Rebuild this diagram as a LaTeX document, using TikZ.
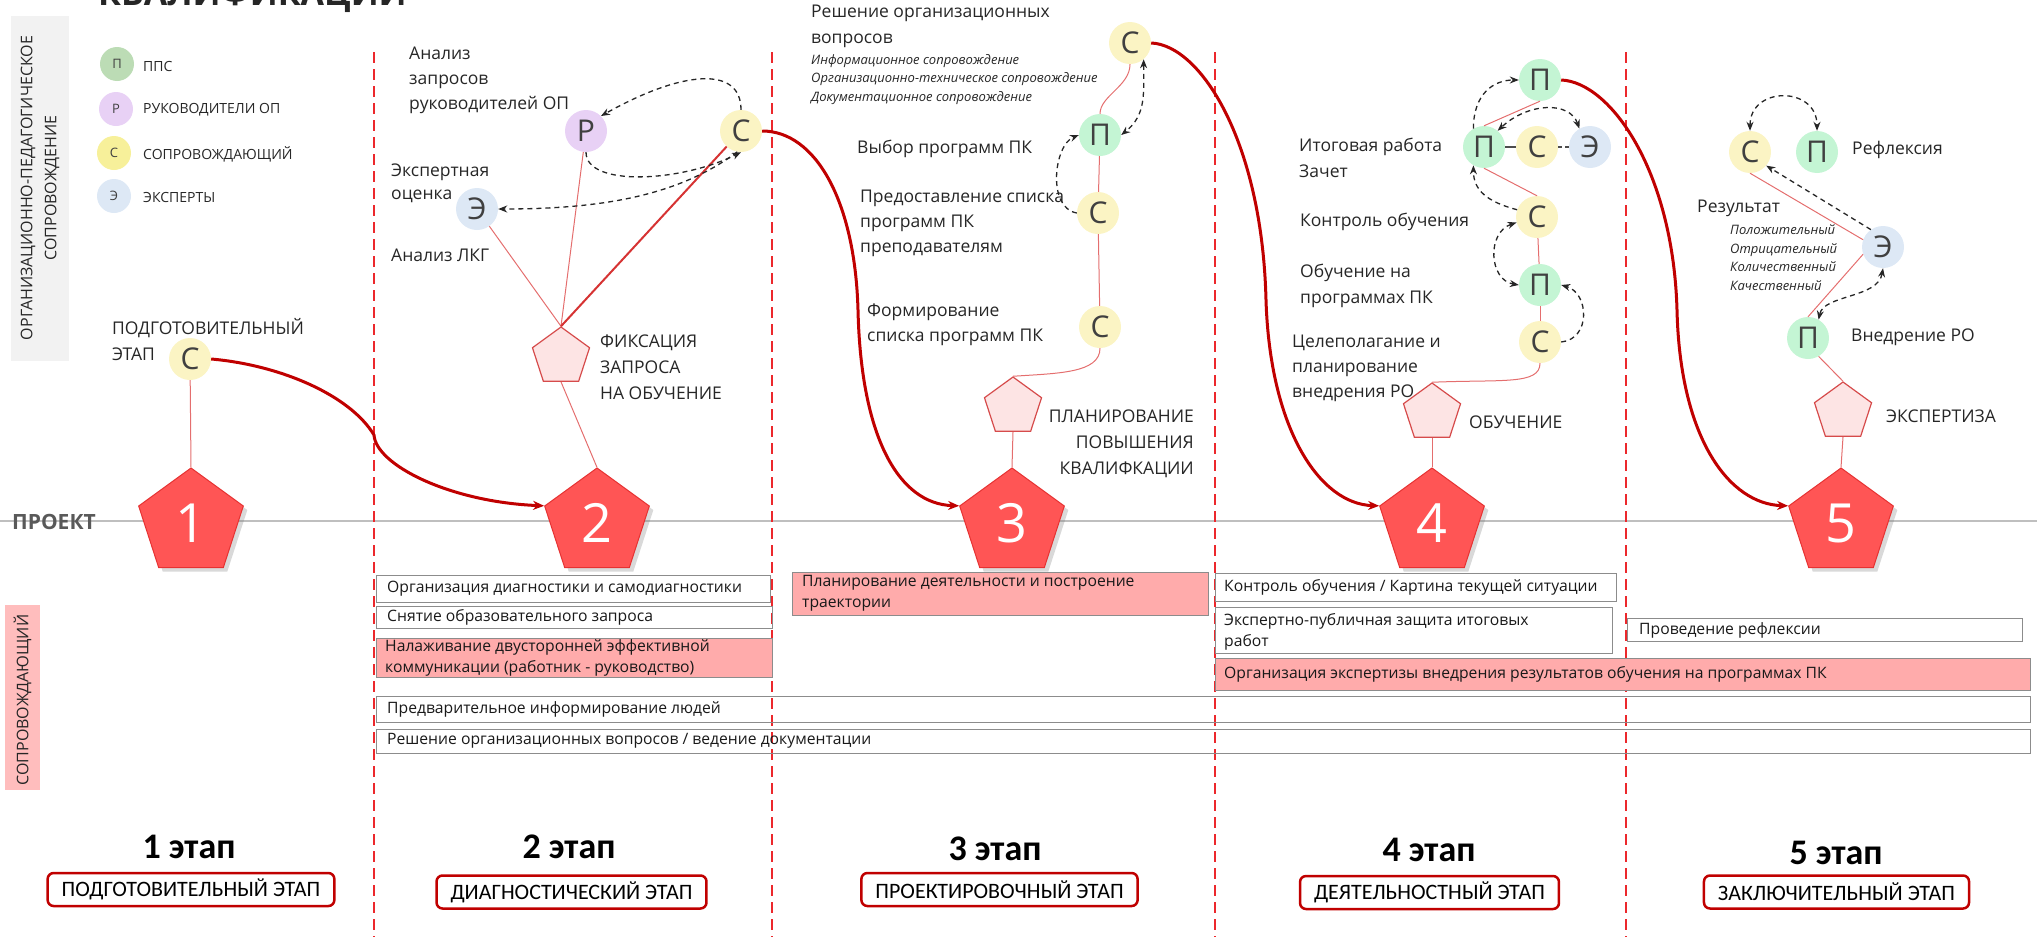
\documentclass[tikz,border=0pt]{standalone}
\usepackage{fontspec}
\setmainfont{Open Sans}
\newfontfamily\stagefont{Carlito}
\usetikzlibrary{shapes.geometric,arrows.meta,shadows}

\definecolor{ppsgreen}{RGB}{196,245,212}
\definecolor{lgreen}{RGB}{188,220,181}
\definecolor{rukviolet}{RGB}{232,209,245}
\definecolor{sopryellow}{RGB}{251,244,196}
\definecolor{lyellow}{RGB}{247,240,154}
\definecolor{expblue}{RGB}{221,232,245}
\definecolor{stagered}{RGB}{255,85,85}
\definecolor{stageedge}{RGB}{230,50,50}
\definecolor{lightpent}{RGB}{253,228,228}
\definecolor{pentedge}{RGB}{214,75,75}
\definecolor{linkred}{RGB}{228,110,110}
\definecolor{pathred}{RGB}{192,0,0}
\definecolor{splitred}{RGB}{236,40,44}
\definecolor{taskpink}{RGB}{255,171,171}
\definecolor{barpink}{RGB}{255,189,189}
\definecolor{bargray}{RGB}{242,242,242}
\definecolor{txtgray}{RGB}{64,64,64}

\begin{document}
\begin{tikzpicture}[x=1pt,y=-1pt,
    role/.style={circle, inner sep=0pt, minimum size=42pt, text=txtgray, font=\fontsize{30}{30}\selectfont},
    pps/.style={role, fill=ppsgreen},
    ruk/.style={role, fill=rukviolet},
    sopr/.style={role, fill=sopryellow},
    expt/.style={role, fill=expblue},
    legend/.style={circle, inner sep=0pt, minimum size=34pt, text=txtgray, font=\fontsize{13}{13}\selectfont},
    legendtext/.style={inner sep=0pt, anchor=west, text=black!85, font=\fontsize{14}{14}\selectfont},
    stage/.style={regular polygon, regular polygon sides=5, minimum size=110pt, inner sep=0pt,
        fill=stagered, draw=stageedge, line width=1pt, text=white, font=\fontsize{54}{54}\selectfont,
        drop shadow={shadow xshift=4pt, shadow yshift=-4pt, opacity=0.3}},
    milestone/.style={regular polygon, regular polygon sides=5, minimum size=60pt, inner sep=0pt,
        fill=lightpent, draw=pentedge, line width=1.2pt},
    lbl/.style={inner sep=0pt, anchor=west, align=left, text=black!85, font=\fontsize{17.5}{25}\selectfont},
    caps/.style={inner sep=0pt, anchor=west, align=left, text=black!85, font=\fontsize{17.5}{26}\selectfont},
    note/.style={inner sep=0pt, anchor=west, align=left, text=black!85, font=\fontsize{13}{18.5}\selectfont\itshape},
    link/.style={draw=linkred, line width=1pt},
    flow/.style={draw=black!85, line width=1.3pt, dash pattern=on 5pt off 4pt, >={Stealth[length=9pt,width=7pt]}},
    route/.style={draw=pathred, line width=3pt, >={Stealth[length=11pt,width=9pt]}},
    split/.style={draw=splitred, line width=2pt, dash pattern=on 11pt off 6pt},
    taskbox/.style={draw=black!45, line width=1pt},
    tasktext/.style={inner sep=0pt, anchor=west, align=left, text=black!90, font=\fontsize{15.7}{21}\selectfont},
    stagenum/.style={inner sep=0pt, font=\stagefont\bfseries\fontsize{36}{36}\selectfont},
    stagename/.style={draw=pathred, line width=2.5pt, rounded corners=6pt, fill=white, minimum height=33pt,
        inner xsep=14pt, font=\stagefont\fontsize{22}{22}\selectfont}
  ]
             \useasboundingbox (0,0) rectangle (2037,937);
             \node[anchor=base west, inner sep=0pt, text=black!85, font=\bfseries\fontsize{34}{34}\selectfont] (title) at (98,5) {КВАЛИФИКАЦИИ};

             \fill[bargray] (11,16) rectangle (69,361);
             \node[rotate=90, align=center, inner sep=0pt, text=black!85, font=\fontsize{16}{24}\selectfont] (orgbar) at (40,188) {ОРГАНИЗАЦИОННО-ПЕДАГОГИЧЕСКОЕ\\СОПРОВОЖДЕНИЕ};
             \fill[barpink] (5,605) rectangle (40,790);
             \node[rotate=90, inner sep=0pt, text=black!85, font=\fontsize{16}{16}\selectfont] (soprbar) at (22.5,700) {СОПРОВОЖДАЮЩИЙ};

             \node[legend, fill=lgreen] (lgP) at (117,64) {П};
             \node[legend, fill=rukviolet] (lgR) at (116,109) {Р};
             \node[legend, fill=lyellow] (lgS) at (114,153) {С};
             \node[legend, fill=expblue] (lgE) at (114,196) {Э};
             \node[legendtext] (lgPtxt) at (143,66) {ППС};
             \node[legendtext] (lgRtxt) at (143,110) {РУКОВОДИТЕЛИ ОП};
             \node[legendtext] (lgStxt) at (143,154) {СОПРОВОЖДАЮЩИЙ};
             \node[legendtext] (lgEtxt) at (143,197) {ЭКСПЕРТЫ};

             \draw[black!25, line width=1.2pt] (0,521) -- (2037,521);
             \node[anchor=west, inner sep=0pt, text=black!65, font=\bfseries\fontsize{21}{21}\selectfont] (proj) at (12,522) {ПРОЕКТ};
             \foreach \sx in {374,772,1215,1626}
                 \draw[split] (\sx,52) -- (\sx,937);

             \foreach \n/\sx in {1/191,2/597,3/1012,4/1432,5/1841}
                 \node[stage] (st\n) at (\sx,523) {\n};
             \node[milestone] (fx2) at (561,357) {};
             \node[milestone] (pl3) at (1013,407) {};
             \node[milestone] (ob4) at (1432,413) {};
             \node[milestone] (ex5) at (1843,412) {};
             \node[caps] (fx2txt) at (600,367) {ФИКСАЦИЯ\\ЗАПРОСА\\НА ОБУЧЕНИЕ};
             \node[caps, anchor=east, align=right] (pl3txt) at (1194,444) {ПЛАНИРОВАНИЕ\\ПОВЫШЕНИЯ\\КВАЛИФКАЦИИ};
             \node[caps] (ob4txt) at (1469,422) {ОБУЧЕНИЕ};
             \node[caps] (ex5txt) at (1886,416) {ЭКСПЕРТИЗА};

             \node[sopr] (c1) at (190,359) {С};
             \node[caps] (c1txt) at (112,339.5) {ПОДГОТОВИТЕЛЬНЫЙ\\ЭТАП};
             \draw[link] (c1) -- (st1.corner 1);

             \node[ruk] (s2R) at (586,131) {Р};
             \node[sopr] (s2S) at (741,131) {С};
             \node[expt] (s2E) at (477,209) {Э};
             \node[lbl] (s2Rtxt) at (409,80) {Анализ\\запросов\\руководителей ОП};
             \node[lbl, font=\fontsize{17.5}{23}\selectfont] (s2Etxt) at (391,183.5) {Экспертная\\оценка};
             \node[lbl] (s2Ltxt) at (391,255) {Анализ ЛКГ};
             \draw[link] (s2E) -- (fx2.corner 1);
             \draw[link] (s2R) -- (fx2.corner 1);
             \draw[link, draw=red!80!black!80, line width=2pt] (s2S) -- (fx2.corner 1);
             \draw[link] (fx2.south) -- (st2.corner 1);
             \draw[flow, ->] (s2S.north) .. controls +(0,-45) and +(80,-45) .. (s2R.45);
             \draw[flow, ->] (s2R.south) .. controls +(0,35) and +(-60,30) .. (s2S.south);
             \draw[flow, ->] (s2S.-100) .. controls +(-60,45) and +(100,0) .. (s2E.east);

             \node[sopr] (s3S1) at (1130,43) {С};
             \node[pps] (s3P) at (1100,135) {П};
             \node[sopr] (s3S2) at (1098,213) {С};
             \node[sopr] (s3S3) at (1100,327) {С};
             \node[lbl, font=\fontsize{17.5}{26}\selectfont] (s3S1txt) at (811,26) {Решение организационных\\вопросов};
             \node[note] (s3note) at (811,79.5) {Информационное сопровождение\\Организационно-техническое сопровождение\\Документационное сопровождение};
             \node[lbl] (s3Ptxt) at (857,149) {Выбор программ ПК};
             \node[lbl] (s3S2txt) at (860,223) {Предоставление списка\\программ ПК\\преподавателям};
             \node[lbl] (s3S3txt) at (867,324.5) {Формирование\\списка программ ПК};
             \draw[link] (s3S1.south) .. controls +(0,22) and +(0,-18) .. (s3P.north);
             \draw[link] (s3P) -- (s3S2);
             \draw[link] (s3S2) -- (s3S3);
             \draw[link] (s3S3.south) .. controls +(0,25) and +(45,-3) .. (pl3.corner 1);
             \draw[link] (pl3.south) -- (st3.corner 1);
             \draw[flow, <->] (s3S1.-50) .. controls +(0,35) and +(25,-20) .. (s3P.east);
             \draw[flow, ->] (s3S2.west) .. controls +(-30,-5) and +(-25,10) .. (s3P.west);

             \node[pps] (s4P1) at (1540,80) {П};
             \node[pps] (s4P2) at (1484,147) {П};
             \node[sopr] (s4S1) at (1537,147) {С};
             \node[expt] (s4E) at (1590,147) {Э};
             \node[sopr] (s4S2) at (1537,217) {С};
             \node[pps] (s4P3) at (1540,285) {П};
             \node[sopr] (s4S3) at (1540,342) {С};
             \node[lbl, font=\fontsize{17.5}{26}\selectfont] (s4P2txt) at (1299,158) {Итоговая работа\\Зачет};
             \node[lbl] (s4S2txt) at (1300,222) {Контроль обучения};
             \node[lbl, font=\fontsize{17.5}{26}\selectfont] (s4P3txt) at (1300,286) {Обучение на\\программах ПК};
             \node[lbl] (s4S3txt) at (1292,368) {Целеполагание и\\планирование\\внедрения РО};
             \draw[link] (s4P2.north) -- (s4P1.south);
             \draw[link] (s4P2.south) -- (s4S2.north);
             \draw[black!70, line width=1.2pt] (s4P2.east) -- (s4S1.west);
             \draw[black!70, line width=1.2pt, dash pattern=on 4pt off 3pt] (s4S1.east) -- (s4E.west);
             \draw[link] (s4S2) -- (s4P3);
             \draw[link] (s4P3) -- (s4S3);
             \draw[link] (s4S3.south) .. controls +(0,22) and +(70,-3) .. (ob4.corner 1);
             \draw[link] (ob4.south) -- (st4.corner 1);
             \draw[flow, ->] (s4P2.120) .. controls +(0,-35) and +(-25,0) .. (s4P1.west);
             \draw[flow, <->] (s4E.120) .. controls +(-10,-28) and +(30,-28) .. (s4P2.50);
             \draw[flow, ->] (s4S2.160) .. controls +(-30,-8) and +(0,25) .. (s4P2.-120);
             \draw[flow, <->] (s4S2.195) .. controls +(-30,10) and +(-30,-5) .. (s4P3.west);
             \draw[flow, ->] (s4S3.east) .. controls +(30,-3) and +(28,8) .. (s4P3.east);

             \node[sopr] (s5S) at (1750,152) {С};
             \node[pps] (s5P1) at (1817,152) {П};
             \node[expt] (s5E) at (1883,247) {Э};
             \node[pps] (s5P2) at (1808,338) {П};
             \node[lbl] (s5P1txt) at (1852,150) {Рефлексия};
             \node[lbl] (s5Etxt) at (1697,208) {Результат};
             \node[note] (s5note) at (1730,257.5) {Положительный\\Отрицательный\\Количественный\\Качественный};
             \node[lbl] (s5P2txt) at (1851,337) {Внедрение РО};
             \draw[link] (s5S.south) -- (s5E.160);
             \draw[link] (s5E.200) -- (s5P2.north);
             \draw[link] (s5P2.-60) -- (ex5.corner 1);
             \draw[link] (ex5.south) -- (st5.corner 1);
             \draw[flow, <->] (s5S.north) .. controls +(0,-45) and +(0,-45) .. (s5P1.north);
             \draw[flow, ->] (s5E.125) -- (s5S.-40);
             \draw[flow, <->] (s5E.south) .. controls +(-5,30) and +(5,-25) .. (s5P2.60);

             \draw[route, ->] (c1.east) .. controls (280,365) and (350,395) .. (374,435)
                 .. controls (376,465) and (450,502) .. (st2.corner 2);
             \draw[route, ->] (s2S.east) .. controls (815,131) and (855,200) .. (858,310)
                 .. controls (861,440) and (900,504) .. (st3.corner 2);
             \draw[route, ->] (s3S1.east) .. controls (1200,45) and (1262,140) .. (1266,300)
                 .. controls (1270,430) and (1320,504) .. (st4.corner 2);
             \draw[route, ->] (s4P1.east) .. controls (1610,82) and (1673,170) .. (1677,310)
                 .. controls (1680,440) and (1730,504) .. (st5.corner 2);

             \draw[taskbox] (376,575) rectangle (770,602);
             \node[tasktext] (t1) at (387,588.5) {Организация диагностики и самодиагностики};
             \draw[taskbox] (376,606) rectangle (772,628);
             \node[tasktext] (t2) at (387,617) {Снятие образовательного запроса};
             \draw[taskbox, fill=taskpink] (376,638) rectangle (772,677);
             \node[tasktext] (t3) at (385,658) {Налаживание двусторонней эффективной\\коммуникации (работник - руководство)};
             \draw[taskbox] (376,696) rectangle (2030,722);
             \node[tasktext] (t4) at (387,709) {Предварительное информирование людей};
             \draw[taskbox] (376,729) rectangle (2030,753);
             \node[tasktext] (t5) at (387,741) {Решение организационных вопросов / ведение документации};
             \draw[taskbox, fill=taskpink] (792,572) rectangle (1208,615);
             \node[tasktext] (t6) at (802,593.5) {Планирование деятельности и построение\\траектории};
             \draw[taskbox] (1215,573) rectangle (1616,601);
             \node[tasktext] (t7) at (1224,587) {Контроль обучения / Картина текущей ситуации};
             \draw[taskbox] (1215,607) rectangle (1612,653);
             \node[tasktext] (t8) at (1224,632) {Экспертно-публичная защита итоговых\\работ};
             \draw[taskbox] (1627,618) rectangle (2022,641);
             \node[tasktext] (t9) at (1639,630) {Проведение рефлексии};
             \draw[taskbox, fill=taskpink] (1215,658) rectangle (2030,690);
             \node[tasktext] (t10) at (1224,674) {Организация экспертизы внедрения результатов обучения на программах ПК};

             \foreach \n/\sx/\sy in {1/189/847,2/569/847,3/995/849,4/1429/850,5/1836/853}
                 \node[stagenum] (num\n) at (\sx,\sy) {\n\ этап};
             \node[stagename] (nm1) at (191,889.5) {ПОДГОТОВИТЕЛЬНЫЙ ЭТАП};
             \node[stagename] (nm2) at (571.5,892) {ДИАГНОСТИЧЕСКИЙ ЭТАП};
             \node[stagename] (nm3) at (999.5,889.5) {ПРОЕКТИРОВОЧНЫЙ ЭТАП};
             \node[stagename] (nm4) at (1429.5,892.5) {ДЕЯТЕЛЬНОСТНЫЙ ЭТАП};
             \node[stagename] (nm5) at (1836.5,892) {ЗАКЛЮЧИТЕЛЬНЫЙ ЭТАП};
         \end{tikzpicture}
\end{document}
